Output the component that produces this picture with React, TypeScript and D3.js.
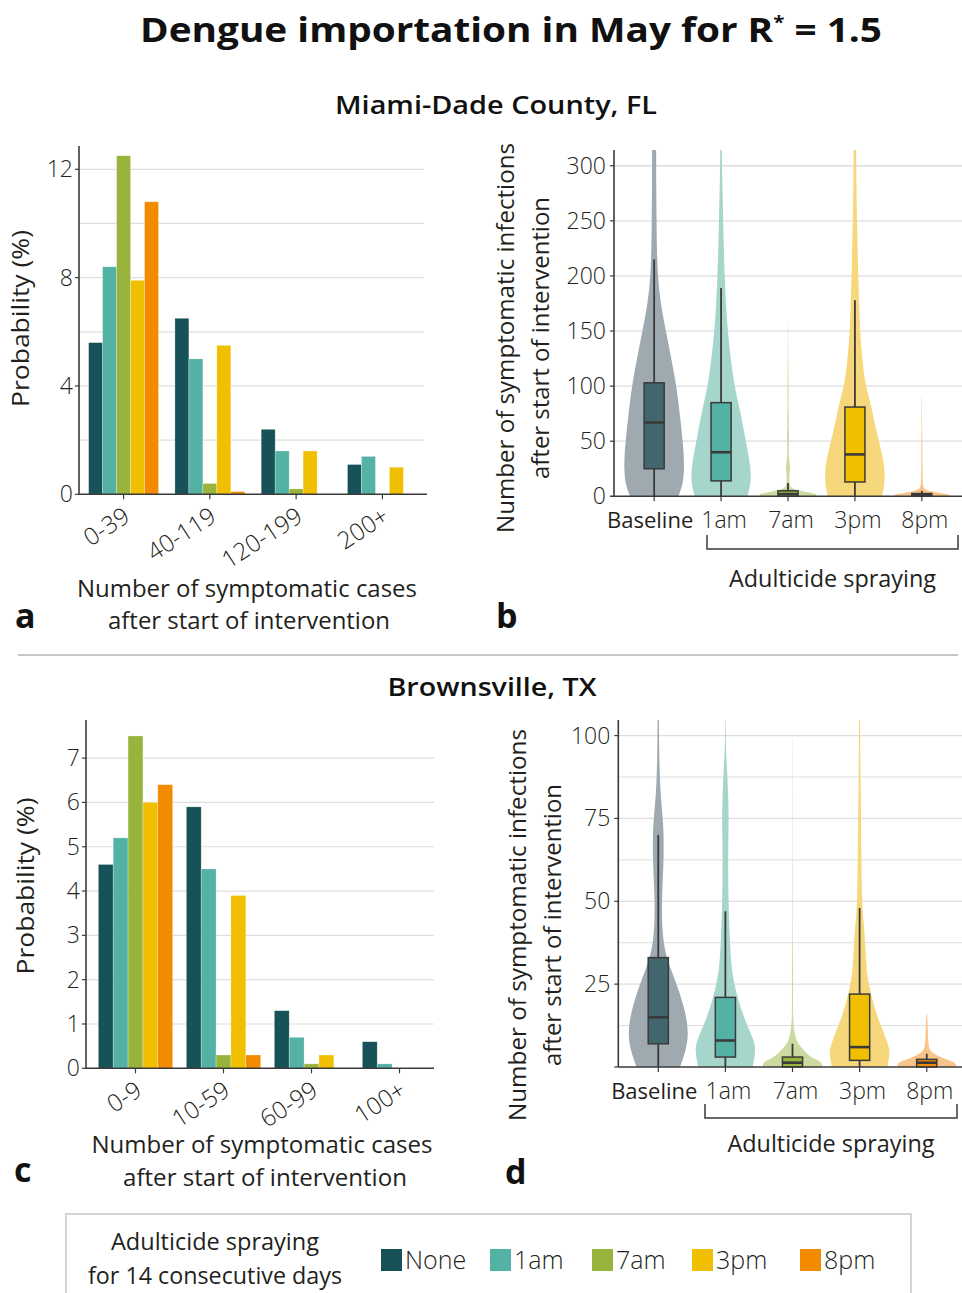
import React from "react";
import * as d3 from "d3";

// ---------------- DATA ----------------
const SERIES = ["None", "1am", "7am", "3pm", "8pm"];
const SERIES_COLORS = ["#185259", "#53B2A4", "#98B43C", "#F0C000", "#F38B00"];
const VIOLIN_COLORS = ["#9EAAB0", "#A5D5CB", "#CBDAA0", "#F7D77B", "#F9C48A"];
const BOX_COLORS = ["#41666E", "#53B2A4", "#98B43C", "#F0C000", "#F38B00"];

const MIAMI_BINS = ["0-39", "40-119", "120-199", "200+"];
const MIAMI_NONE = [5.6, 6.5, 2.4, 1.1];
const MIAMI_1AM = [8.4, 5.0, 1.6, 1.4];
const MIAMI_7AM = [12.5, 0.4, 0.2, 0];
const MIAMI_3PM = [7.9, 5.5, 1.6, 1.0];
const MIAMI_8PM = [10.8, 0.1, 0, 0];

const BROWNS_BINS = ["0-9", "10-59", "60-99", "100+"];
const BROWNS_NONE = [4.6, 5.9, 1.3, 0.6];
const BROWNS_1AM = [5.2, 4.5, 0.7, 0.1];
const BROWNS_7AM = [7.5, 0.3, 0.1, 0];
const BROWNS_3PM = [6.0, 3.9, 0.3, 0];
const BROWNS_8PM = [6.4, 0.3, 0, 0];

const VIOLIN_GROUPS = ["Baseline", "1am", "7am", "3pm", "8pm"];

// box statistics per group (Baseline, 1am, 7am, 3pm, 8pm)
const MIAMI_LOW = [0, 0, 0, 0, 0];
const MIAMI_Q1 = [25, 14, 0, 13, 0];
const MIAMI_MEDIAN = [67, 40, 2, 38, 1];
const MIAMI_Q3 = [103, 85, 5, 81, 2.5];
const MIAMI_HIGH = [215, 189, 12, 178, 5];

const BROWNS_LOW = [0, 0, 0, 0, 0];
const BROWNS_Q1 = [7, 3, 0, 2, 0];
const BROWNS_MEDIAN = [15, 8, 1.3, 6, 1.3];
const BROWNS_Q3 = [33, 21, 3, 22, 2.3];
const BROWNS_HIGH = [70, 47, 7, 48, 4];

// violin density profiles: [value, relative density]
const MIAMI_DENS_BASELINE: [number, number][] = [
  [0, 0.8], [10, 0.95], [25, 1.0], [40, 0.98], [55, 0.93], [75, 0.85], [100, 0.74],
  [125, 0.57], [150, 0.39], [175, 0.21], [200, 0.12], [225, 0.09], [250, 0.08],
  [280, 0.07], [330, 0.065],
];
const MIAMI_DENS_1AM: [number, number][] = [
  [0, 0.88], [10, 0.97], [20, 1.0], [35, 0.93], [50, 0.82], [65, 0.72], [82, 0.6],
  [100, 0.44], [125, 0.32], [150, 0.22], [175, 0.16], [200, 0.12], [225, 0.09],
  [250, 0.07], [275, 0.05], [300, 0.03], [330, 0.02],
];
const MIAMI_DENS_7AM: [number, number][] = [
  [0, 0.9], [2, 1.0], [4, 0.6], [6, 0.25], [8, 0.1], [10, 0.06], [14, 0.04],
  [20, 0.05], [27, 0.08], [32, 0.03], [45, 0.02], [55, 0.04], [62, 0.015], [73, 0.03],
  [82, 0.01], [90, 0.02], [110, 0.015], [130, 0.008], [158, 0.004],
];
const MIAMI_DENS_3PM: [number, number][] = [
  [0, 0.9], [10, 0.98], [22, 1.0], [35, 0.93], [50, 0.8], [65, 0.66], [82, 0.55],
  [100, 0.35], [125, 0.24], [150, 0.17], [175, 0.14], [200, 0.11], [250, 0.07],
  [280, 0.05], [330, 0.04],
];
const MIAMI_DENS_8PM: [number, number][] = [
  [0, 0.85], [1.5, 1.0], [3, 0.6], [5, 0.15], [8, 0.05], [12, 0.03], [20, 0.02],
  [40, 0.02], [60, 0.01], [92, 0.004],
];

const BROWNS_DENS_BASELINE: [number, number][] = [
  [0, 0.72], [4, 0.88], [9, 1.0], [14, 0.95], [18, 0.85], [22, 0.72], [25, 0.6],
  [30, 0.4], [33, 0.28], [37.5, 0.17], [44, 0.12], [50, 0.12], [57, 0.15], [63, 0.18],
  [70, 0.18], [75, 0.15], [82, 0.08], [88, 0.05], [95, 0.03], [108, 0.02],
];
const BROWNS_DENS_1AM: [number, number][] = [
  [0, 0.9], [3, 0.97], [6, 1.0], [9, 0.9], [12.5, 0.72], [16, 0.58], [21, 0.4],
  [25, 0.3], [30, 0.2], [37.5, 0.15], [50, 0.1], [62.5, 0.09], [70, 0.1], [75, 0.11],
  [80, 0.1], [87.5, 0.07], [93, 0.03], [100, 0.01], [108, 0.005],
];
const BROWNS_DENS_7AM: [number, number][] = [
  [0, 0.97], [1, 1.0], [2, 0.85], [3, 0.6], [5, 0.38], [7, 0.18], [9, 0.1], [11, 0.06],
  [14, 0.02], [20, 0.015], [30, 0.02], [35, 0.01], [50, 0.008], [70, 0.006], [99, 0.004],
];
const BROWNS_DENS_3PM: [number, number][] = [
  [0, 0.92], [3, 0.98], [5, 1.0], [8, 0.9], [12.5, 0.7], [18, 0.48], [25, 0.3],
  [30, 0.22], [37.5, 0.19], [45, 0.12], [50, 0.08], [62.5, 0.06], [75, 0.05],
  [87.5, 0.03], [100, 0.02], [108, 0.015],
];
const BROWNS_DENS_8PM: [number, number][] = [
  [0, 0.95], [1, 1.0], [2, 0.75], [3, 0.45], [4, 0.25], [5, 0.1], [7, 0.05],
  [10, 0.04], [13, 0.03], [16, 0.01],
];

const MIAMI_VIOLIN_TICKS = [0, 50, 100, 150, 200, 250, 300];
const BROWNS_VIOLIN_TICKS = [25, 50, 75, 100];
const MIAMI_BAR_TICKS = [0, 4, 8, 12];
const BROWNS_BAR_TICKS = [0, 1, 2, 3, 4, 5, 6, 7];

// ---------------- STYLE ----------------
const FONT = "'Open Sans', 'Noto Sans', 'DejaVu Sans', sans-serif";
const INK = "#231F20";
const AXIS = "#3a3a3a";
const GRID = "#dedede";

type BarProps = {
  bins: string[];
  series: number[][];
  left: number;
  axisRight: number;
  gridRight: number;
  top: number;
  bottom: number;
  yMax: number;
  gridTicks: number[];
  labelTicks: number[];
  bandRange: [number, number];
  padInner: number;
  padOuter: number;
};

function BarPanel(p: BarProps) {
  const x = d3.scaleBand<string>().domain(p.bins).range(p.bandRange).paddingInner(p.padInner).paddingOuter(p.padOuter);
  const xs = d3.scaleBand<string>().domain(SERIES).range([0, x.bandwidth()]);
  const y = d3.scaleLinear().domain([0, p.yMax]).range([p.bottom, p.top]);
  return (
    <g>
      {p.gridTicks.map((t) => (
        <line key={"g" + t} x1={p.left} x2={p.gridRight} y1={y(t)} y2={y(t)} stroke={GRID} strokeWidth={1.2} />
      ))}
      {SERIES.map((s, si) =>
        p.bins.map((b, bi) => {
          const v = p.series[si][bi];
          if (v <= 0) return null;
          return (
            <rect
              key={s + b}
              x={(x(b) as number) + (xs(s) as number)}
              y={y(v)}
              width={xs.bandwidth()}
              height={y(0) - y(v)}
              fill={SERIES_COLORS[si]}
              stroke="#ffffff"
              strokeOpacity={0.45}
              strokeWidth={0.6}
            />
          );
        })
      )}
      <line x1={p.left} x2={p.left} y1={p.top} y2={p.bottom} stroke={AXIS} strokeWidth={1.6} />
      <line x1={p.left} x2={p.axisRight} y1={p.bottom} y2={p.bottom} stroke={AXIS} strokeWidth={1.6} />
      {p.labelTicks.map((t) => (
        <g key={"l" + t}>
          <line x1={p.left - 4} x2={p.left} y1={y(t)} y2={y(t)} stroke={AXIS} strokeWidth={1.2} />
          <text x={p.left - 6} y={y(t) + 8} textAnchor="end" fontSize={23} fontWeight={300} fill={INK}>
            {t}
          </text>
        </g>
      ))}
      {p.bins.map((b) => {
        const cx = (x(b) as number) + x.bandwidth() / 2;
        return (
          <g key={"x" + b}>
            <line x1={cx} x2={cx} y1={p.bottom} y2={p.bottom + 5} stroke={AXIS} strokeWidth={1.2} />
            <text
              transform={`translate(${cx + 8},${p.bottom + 26}) rotate(-33)`}
              textAnchor="end"
              fontSize={24}
              fontWeight={300}
              fill={INK}
            >
              {b}
            </text>
          </g>
        );
      })}
    </g>
  );
}

type ViolinProps = {
  id: string;
  dens: [number, number][][];
  low: number[];
  q1: number[];
  med: number[];
  q3: number[];
  high: number[];
  left: number;
  right: number;
  top: number;
  bottom: number;
  yMax: number;
  majorGrid: number[];
  minorGrid: number[];
  labelTicks: number[];
  pointRange: [number, number];
};

function ViolinPanel(p: ViolinProps) {
  const x = d3.scalePoint<string>().domain(VIOLIN_GROUPS).range(p.pointRange).padding(0.6);
  const step = x.step();
  const y = d3.scaleLinear().domain([0, p.yMax]).range([p.bottom, p.top]);
  const hw = step * 0.45;
  const bw = step * 0.3;
  return (
    <g>
      <defs>
        <clipPath id={p.id}>
          <rect x={p.left} y={p.top} width={p.right - p.left} height={p.bottom - p.top} />
        </clipPath>
      </defs>
      {p.minorGrid.map((t) => (
        <line key={"m" + t} x1={p.left} x2={p.right} y1={y(t)} y2={y(t)} stroke={GRID} strokeWidth={1} />
      ))}
      {p.majorGrid.map((t) => (
        <line key={"g" + t} x1={p.left} x2={p.right} y1={y(t)} y2={y(t)} stroke={GRID} strokeWidth={1.3} />
      ))}
      <g clipPath={`url(#${p.id})`}>
        {VIOLIN_GROUPS.map((g, i) => {
          const cx = x(g) as number;
          const area = d3
            .area<[number, number]>()
            .curve(d3.curveBasis)
            .y((d) => y(d[0]))
            .x0((d) => cx - d[1] * hw)
            .x1((d) => cx + d[1] * hw);
          return <path key={"v" + g} d={area(p.dens[i]) || ""} fill={VIOLIN_COLORS[i]} />;
        })}
      </g>
      {VIOLIN_GROUPS.map((g, i) => {
        const cx = x(g) as number;
        return (
          <g key={"b" + g}>
            <line x1={cx} x2={cx} y1={y(p.low[i])} y2={y(p.high[i])} stroke={AXIS} strokeWidth={1.8} />
            <rect
              x={cx - bw / 2}
              y={y(p.q3[i])}
              width={bw}
              height={y(p.q1[i]) - y(p.q3[i])}
              fill={BOX_COLORS[i]}
              stroke={AXIS}
              strokeWidth={1.5}
            />
            <line x1={cx - bw / 2} x2={cx + bw / 2} y1={y(p.med[i])} y2={y(p.med[i])} stroke={AXIS} strokeWidth={2.6} />
          </g>
        );
      })}
      <line x1={p.left} x2={p.left} y1={p.top} y2={p.bottom} stroke={AXIS} strokeWidth={1.6} />
      <line x1={p.left} x2={p.right} y1={p.bottom} y2={p.bottom} stroke={AXIS} strokeWidth={1.6} />
      <line x1={p.left - 4} x2={p.left} y1={p.bottom} y2={p.bottom} stroke={AXIS} strokeWidth={1.2} />
      {p.labelTicks.map((t) => (
        <g key={"l" + t}>
          <line x1={p.left - 4} x2={p.left} y1={y(t)} y2={y(t)} stroke={AXIS} strokeWidth={1.2} />
          <text x={p.left - 8} y={y(t) + 8} textAnchor="end" fontSize={23} fontWeight={300} fill={INK}>
            {t}
          </text>
        </g>
      ))}
      {VIOLIN_GROUPS.map((g, i) => {
        const cx = x(g) as number;
        return (
          <g key={"t" + g}>
            <line x1={cx} x2={cx} y1={p.bottom} y2={p.bottom + 5} stroke={AXIS} strokeWidth={1.2} />
            <text
              x={cx + (i === 0 ? -4 : 3)}
              y={p.bottom + 32}
              textAnchor="middle"
              fontSize={i === 0 ? 22 : 23}
              fontWeight={i === 0 ? 400 : 300}
              fill={INK}
            >
              {g}
            </text>
          </g>
        );
      })}
    </g>
  );
}

function Bracket({ x1, x2, y, tip, labelY }: { x1: number; x2: number; y: number; tip: number; labelY: number }) {
  return (
    <g>
      <path d={`M${x1},${y - tip}V${y}H${x2}V${y - tip}`} fill="none" stroke={AXIS} strokeWidth={1.5} />
      <text x={(x1 + x2) / 2} y={labelY} textAnchor="middle" fontSize={23} fill={INK} textLength={207} lengthAdjust="spacingAndGlyphs">
        Adulticide spraying
      </text>
    </g>
  );
}

function VTitle({ x1, x2, cy, len1, len2 }: { x1: number; x2: number; cy: number; len1: number; len2: number }) {
  return (
    <g>
      <text transform={`translate(${x1},${cy}) rotate(-90)`} textAnchor="middle" fontSize={23} fill={INK} textLength={len1} lengthAdjust="spacingAndGlyphs">
        Number of symptomatic infections
      </text>
      <text transform={`translate(${x2},${cy}) rotate(-90)`} textAnchor="middle" fontSize={23} fill={INK} textLength={len2} lengthAdjust="spacingAndGlyphs">
        after start of intervention
      </text>
    </g>
  );
}

const LEGEND_X = [381, 490, 592, 692, 800];

export default function App() {
  return (
    <svg
      width={962}
      height={1293}
      viewBox="0 0 962 1293"
      style={{ position: "absolute", left: 0, top: 0, background: "#fff", fontFamily: FONT }}
    >
      <rect x={0} y={0} width={962} height={1293} fill="#fff" />
      {/* Title */}
      <text x={511} y={42} textAnchor="middle" fontSize={34} fontWeight={700} fill="#111" textLength={742} lengthAdjust="spacingAndGlyphs">
        Dengue importation in May for R<tspan dy={-13} fontSize={18}>*</tspan>
        <tspan dy={13}> = 1.5</tspan>
      </text>
      <text x={496} y={114} textAnchor="middle" fontSize={26} fontWeight={600} fill="#111" textLength={322} lengthAdjust="spacingAndGlyphs">
        Miami-Dade County, FL
      </text>
      <line x1={18} x2={958} y1={655} y2={655} stroke="#b5b5b5" strokeWidth={1.5} />
      <text x={492} y={696} textAnchor="middle" fontSize={26} fontWeight={600} fill="#111" textLength={209} lengthAdjust="spacingAndGlyphs">
        Brownsville, TX
      </text>

      {/* Panel a */}
      <BarPanel
        bins={MIAMI_BINS}
        series={[MIAMI_NONE, MIAMI_1AM, MIAMI_7AM, MIAMI_3PM, MIAMI_8PM]}
        left={79}
        axisRight={427}
        gridRight={424}
        top={146}
        bottom={494.3}
        yMax={12.86}
        gridTicks={[2, 4, 6, 8, 10, 12]}
        labelTicks={MIAMI_BAR_TICKS}
        bandRange={[80, 426]}
        padInner={0.19}
        padOuter={0.1}
      />
      <text transform="translate(29,318.5) rotate(-90)" textAnchor="middle" fontSize={24} fill={INK} textLength={177} lengthAdjust="spacingAndGlyphs">
        Probability (%)
      </text>
      <text x={247} y={597} textAnchor="middle" fontSize={24} fill={INK} textLength={340} lengthAdjust="spacingAndGlyphs">
        Number of symptomatic cases
      </text>
      <text x={249} y={629} textAnchor="middle" fontSize={24} fill={INK} textLength={282} lengthAdjust="spacingAndGlyphs">
        after start of intervention
      </text>
      <text x={15} y={628} fontSize={34} fontWeight={700} fill="#111">a</text>

      {/* Panel b */}
      <ViolinPanel
        id="clipB"
        dens={[MIAMI_DENS_BASELINE, MIAMI_DENS_1AM, MIAMI_DENS_7AM, MIAMI_DENS_3PM, MIAMI_DENS_8PM]}
        low={MIAMI_LOW}
        q1={MIAMI_Q1}
        med={MIAMI_MEDIAN}
        q3={MIAMI_Q3}
        high={MIAMI_HIGH}
        left={614}
        right={962}
        top={150}
        bottom={496.3}
        yMax={314.3}
        majorGrid={[50, 100, 150, 200, 250, 300]}
        minorGrid={[]}
        labelTicks={MIAMI_VIOLIN_TICKS}
        pointRange={[614, 962]}
      />
      <VTitle x1={514} x2={549} cy={338} len1={390} len2={282} />
      <Bracket x1={707} x2={958} y={549} tip={14} labelY={587} />
      <text x={496} y={628} fontSize={34} fontWeight={700} fill="#111">b</text>

      {/* Panel c */}
      <BarPanel
        bins={BROWNS_BINS}
        series={[BROWNS_NONE, BROWNS_1AM, BROWNS_7AM, BROWNS_3PM, BROWNS_8PM]}
        left={86}
        axisRight={434}
        gridRight={434}
        top={720}
        bottom={1068.3}
        yMax={7.86}
        gridTicks={[1, 2, 3, 4, 5, 6, 7]}
        labelTicks={BROWNS_BAR_TICKS}
        bandRange={[91.5, 443.5]}
        padInner={0.155}
        padOuter={0.0775}
      />
      <text transform="translate(34,886) rotate(-90)" textAnchor="middle" fontSize={24} fill={INK} textLength={177} lengthAdjust="spacingAndGlyphs">
        Probability (%)
      </text>
      <text x={262} y={1153} textAnchor="middle" fontSize={24} fill={INK} textLength={341} lengthAdjust="spacingAndGlyphs">
        Number of symptomatic cases
      </text>
      <text x={265} y={1186} textAnchor="middle" fontSize={24} fill={INK} textLength={284} lengthAdjust="spacingAndGlyphs">
        after start of intervention
      </text>
      <text x={14} y={1182} fontSize={34} fontWeight={700} fill="#111">c</text>

      {/* Panel d */}
      <ViolinPanel
        id="clipD"
        dens={[BROWNS_DENS_BASELINE, BROWNS_DENS_1AM, BROWNS_DENS_7AM, BROWNS_DENS_3PM, BROWNS_DENS_8PM]}
        low={BROWNS_LOW}
        q1={BROWNS_Q1}
        med={BROWNS_MEDIAN}
        q3={BROWNS_Q3}
        high={BROWNS_HIGH}
        left={618.3}
        right={962}
        top={720}
        bottom={1067}
        yMax={104.7}
        majorGrid={[25, 50, 75, 100]}
        minorGrid={[12.5, 37.5, 62.5, 87.5]}
        labelTicks={BROWNS_VIOLIN_TICKS}
        pointRange={[618, 967]}
      />
      <VTitle x1={526} x2={561} cy={925} len1={392} len2={282} />
      <Bracket x1={705} x2={957} y={1118} tip={14} labelY={1152} />
      <text x={505} y={1184} fontSize={34} fontWeight={700} fill="#111">d</text>

      {/* Legend */}
      <rect x={66} y={1214} width={845} height={100} fill="none" stroke="#d4d4d4" strokeWidth={2} />
      <text x={215} y={1250} textAnchor="middle" fontSize={23} fill={INK} textLength={208} lengthAdjust="spacingAndGlyphs">
        Adulticide spraying
      </text>
      <text x={215} y={1284} textAnchor="middle" fontSize={23} fill={INK} textLength={254} lengthAdjust="spacingAndGlyphs">
        for 14 consecutive days
      </text>
      {SERIES.map((s, i) => (
        <g key={"lg" + s}>
          <rect x={LEGEND_X[i]} y={1249} width={21} height={22} fill={SERIES_COLORS[i]} />
          <text x={LEGEND_X[i] + 24} y={1269} fontSize={25} fontWeight={300} fill={INK}>
            {s}
          </text>
        </g>
      ))}
    </svg>
  );
}
